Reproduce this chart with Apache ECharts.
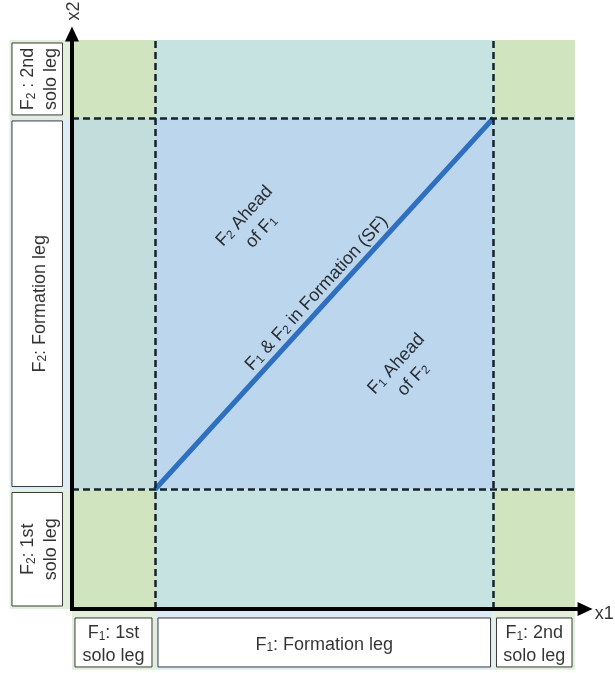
<!DOCTYPE html>
<html>
<head>
<meta charset="utf-8">
<script src="https://cdn.jsdelivr.net/npm/echarts@6/dist/echarts.min.js"></script>
<style>html,body{margin:0;padding:0;background:#fff;}#c{width:615px;height:673px;}</style>
</head>
<body>
<div id="c"></div>
<script>
// ---- data (arbitrary distance units) ----
const x1Edges = [0, 16.5, 83.8, 100];          // F1 leg boundaries along x1
const x2Edges = [0, 21.0, 86.3, 100];          // F2 leg boundaries along x2
const legKinds = ['solo', 'formation', 'solo'];
const x1Legs = ['F₁: 1st\nsolo leg', 'F₁: Formation leg', 'F₁: 2nd\nsolo leg'];
const x2Legs = ['F₂: 1st\nsolo leg', 'F₂: Formation leg', 'F₂ : 2nd\nsolo leg'];
const sfLine = [[16.5, 21.0], [83.8, 86.3]];   // F1 & F2 in formation
const regionLabels = ['F₁ & F₂ in Formation (SF)', 'F₂ Ahead\nof F₁', 'F₁ Ahead\nof F₂'];
const regionLabelPos = [[48.3, 55.8], [35.6, 68.0], [65.8, 42.0]];
const axisNames = ['x1', 'x2'];
const axisEnds = [102, 101.05];

// ---- layout / style ----
const W = 615, H = 673;
const X_MIN = -14.31, X_MAX = 107.95, Y_MIN = -11.25, Y_MAX = 107.03;
const pxX = W / (X_MAX - X_MIN), pxY = H / (Y_MAX - Y_MIN);
const FONT = "'Liberation Sans', Arial, Helvetica, sans-serif";
const cellColors = {
  'solo|solo': '#d0e4bf',
  'formation|solo': '#c6e3e2',
  'solo|formation': '#c2dddc',
  'formation|formation': '#bcd6ee'
};
const bleedColors = { solo: '#e2efda', formation: '#ddebf7' };
const bleedX = -12.4, bleedY = -10.7;
const boxX = [-11.93, -1.89], boxY = [-1.58, -10.19];
const insetX = 3 / pxX, insetY = 3 / pxY;

function toRich(text) {
  return text.split('\n').map(line =>
    line.split(/([₁₂])/).filter(t => t.length).map(t =>
      t === '₁' ? '{s|1}' : t === '₂' ? '{s|2}' : '{n|' + t + '}'
    ).join('')
  ).join('\n');
}

const areas = [];
for (let i = 0; i < 3; i++) {
  for (let j = 0; j < 3; j++) {
    areas.push([
      { coord: [x1Edges[i], x2Edges[j]], itemStyle: { color: cellColors[legKinds[i] + '|' + legKinds[j]], opacity: 1, borderWidth: 0 } },
      { coord: [x1Edges[i + 1], x2Edges[j + 1]] }
    ]);
  }
}
for (let i = 0; i < 3; i++) {
  areas.push([
    { coord: [x1Edges[i], 0], itemStyle: { color: bleedColors[legKinds[i]], opacity: 1, borderWidth: 0 } },
    { coord: [x1Edges[i + 1], bleedY] }
  ]);
  areas.push([
    { coord: [bleedX, x2Edges[i]], itemStyle: { color: bleedColors[legKinds[i]], opacity: 1, borderWidth: 0 } },
    { coord: [0, x2Edges[i + 1]] }
  ]);
}
const boxStyle = { color: '#ffffff', opacity: 1, borderColor: '#3a3a3a', borderWidth: 1 };
const labelItems = [];
for (let i = 0; i < 3; i++) {
  const xa = x1Edges[i] + insetX, xb = x1Edges[i + 1] - insetX;
  areas.push([{ coord: [xa, boxY[0]], itemStyle: boxStyle }, { coord: [xb, boxY[1]] }]);
  labelItems.push({ name: x1Legs[i], value: [(xa + xb) / 2, (boxY[0] + boxY[1]) / 2], label: { rotate: 0 } });
  const ya = x2Edges[i] + insetY, yb = x2Edges[i + 1] - insetY;
  areas.push([{ coord: [boxX[0], ya], itemStyle: boxStyle }, { coord: [boxX[1], yb] }]);
  labelItems.push({ name: x2Legs[i], value: [(boxX[0] + boxX[1]) / 2, (ya + yb) / 2], label: { rotate: 90 } });
}
const ang = Math.atan2((sfLine[1][1] - sfLine[0][1]) * pxY, (sfLine[1][0] - sfLine[0][0]) * pxX) * 180 / Math.PI;
regionLabels.forEach((t, k) => labelItems.push({ name: t, value: regionLabelPos[k], label: { rotate: ang } }));
labelItems.push({ name: axisNames[0], value: [105.8, -0.5], label: { rotate: 0 } });
labelItems.push({ name: axisNames[1], value: [-0.1, 105.1], label: { rotate: 90 } });

const dashLines = [];
[1, 2].forEach(i => {
  dashLines.push([{ coord: [x1Edges[i], x2Edges[0]] }, { coord: [x1Edges[i], x2Edges[3]] }]);
  dashLines.push([{ coord: [x1Edges[0], x2Edges[i]] }, { coord: [x1Edges[3], x2Edges[i]] }]);
});
const axisLines = [
  [{ coord: [-0.4, 0] }, { coord: [axisEnds[0], 0] }],
  [{ coord: [0, -0.35] }, { coord: [0, axisEnds[1]] }]
];

const chart = echarts.init(document.getElementById('c'), null, { renderer: 'canvas' });
chart.setOption({
  animation: false,
  backgroundColor: '#ffffff',
  grid: { left: 0, right: 0, top: 0, bottom: 0, containLabel: false },
  xAxis: { type: 'value', min: X_MIN, max: X_MAX, show: false },
  yAxis: { type: 'value', min: Y_MIN, max: Y_MAX, show: false },
  series: [
    { type: 'line', data: [], silent: true, markArea: { silent: true, data: areas } },
    { type: 'line', data: [], silent: true,
      markLine: { silent: true, symbol: 'none', label: { show: false },
        lineStyle: { color: '#15232c', width: 2.5, type: [7, 4] }, data: dashLines } },
    { type: 'line', data: sfLine, symbol: 'none', silent: true, z: 3,
      lineStyle: { color: '#2e6fc0', width: 5 } },
    { type: 'line', data: [], silent: true,
      markLine: { silent: true, symbol: ['none', 'triangle'], symbolSize: [14, 15], label: { show: false },
        lineStyle: { color: '#000000', width: 4, type: 'solid' }, data: axisLines } },
    { type: 'scatter', data: labelItems, symbolSize: 1, silent: true, z: 10,
      itemStyle: { color: 'rgba(0,0,0,0)' },
      labelLayout: { hideOverlap: false },
      label: {
        show: true, position: 'inside', align: 'center', verticalAlign: 'middle',
        formatter: p => toRich(p.name),
        rich: {
          n: { fontFamily: FONT, fontSize: 18, lineHeight: 23, color: '#000', verticalAlign: 'bottom', align: 'center' },
          s: { fontFamily: FONT, fontSize: 12, lineHeight: 15, color: '#000', verticalAlign: 'bottom', align: 'center' }
        }
      } }
  ]
});
</script>
</body>
</html>
